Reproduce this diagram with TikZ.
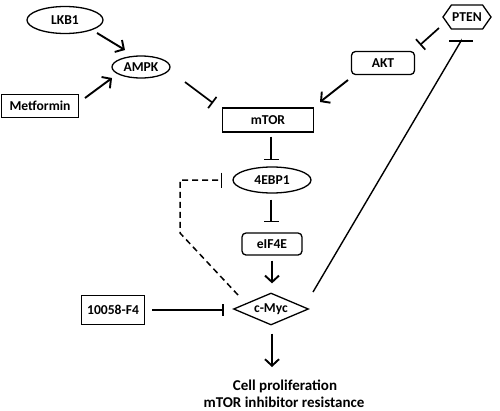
\documentclass[tikz,border=0pt]{standalone}
\usepackage{fontspec}
\setmainfont{Carlito}
\usetikzlibrary{arrows.meta,shapes.geometric,shapes.symbols,calc}
\begin{document}
\begin{tikzpicture}[x=1pt,y=-1pt,
  every node/.style={font=\bfseries\fontsize{13.6}{15}\selectfont, inner sep=0pt},
  box/.style={draw, line width=1.3pt, rectangle},
  rbox/.style={draw, line width=1.3pt, rectangle, rounded corners=4pt},
  oval/.style={draw, line width=1.3pt, ellipse},
  act/.style={line width=1.9pt, -{Straight Barb[length=6.5pt,width=14pt,line width=1.9pt]}},
  inh/.style={line width=1.7pt, -{Bar[width=#1,line width=1.7pt]}},
  inh/.default=15pt,
  plain/.style={font=\bfseries\fontsize{15}{17}\selectfont}]
\useasboundingbox (0,0) rectangle (500,410);
% nodes
\node[oval, minimum width=76pt, minimum height=27pt] (lkb1) at (65,20) {LKB1};
\node[oval, minimum width=58pt, minimum height=22pt] (ampk) at (141,67) {AMPK};
\node[box, minimum width=77pt, minimum height=23pt] (metf) at (40,106) {Metformin};
\node[box, minimum width=91pt, minimum height=24pt] (mtor) at (268,120) {mTOR};
\node[draw, line width=1.3pt, signal, signal to=west and east, signal pointer angle=110,
      minimum width=48pt, minimum height=24pt] (pten) at (467,17) {PTEN};
\node[rbox, minimum width=63pt, minimum height=23pt] (akt) at (383,63) {AKT};
\node[oval, minimum width=78pt, minimum height=26pt] (ebp) at (272,180) {4EBP1};
\node[rbox, minimum width=60pt, minimum height=22pt] (eif) at (272,244) {eIF4E};
\node[draw, line width=1.3pt, diamond, aspect=2.3, minimum width=75pt, minimum height=32pt] (myc) at (271,309) {c-Myc};
\node[box, minimum width=63pt, minimum height=29pt] (f4) at (113,310) {10058-F4};
\node[plain] (out1) at (285,386) {Cell proliferation};
\node[plain] (out2) at (284,402) {mTOR inhibitor resistance};
% connectors
\draw[act] ($(lkb1)+(32,13)$) -- ($(ampk)+(-16,-17)$);
\draw[act] ($(metf)+(45,-8)$) -- ($(ampk)+(-29,11)$);
\draw[inh=14pt] ($(ampk)+(44,15)$) -- ($(mtor)+(-55,-17)$);
\draw[inh=14pt] ($(pten)+(-28,11)$) -- ($(akt)+(37,-18)$);
\draw[act] ($(akt)+(-35,17)$) -- ($(mtor)+(52,-18)$);
\draw[inh] ($(mtor.south)+(3,4)$) -- ($(ebp.north)+(-1,-6)$);
\draw[inh] ($(ebp.south)+(-1,6)$) -- ($(eif.north)+(-1,-10)$);
\draw[act] ($(eif.south)+(0,5)$) -- ($(myc.north)+(1,-9)$);
\draw[act] ($(myc.south)+(1,8)$) -- (272,367);
\coordinate (d1) at (180,233);
\coordinate (d2) at (180,180);
\draw[inh, line width=1.5pt, dash pattern=on 6pt off 4pt] ($(myc)+(-33,-14)$) -- (d1) -- (d2) -- ($(ebp.west)+(-10,0)$);
\draw[inh=12pt] ($(f4.east)+(7,0)$) -- ($(myc.west)+(-9,1)$);
\coordinate (p1) at (461,41);
\draw[line width=1.4pt, -{Bar[width=24pt,line width=1.6pt]}] ($(myc)+(42,-17)$) -- (p1) -- ++(0,-1);
\end{tikzpicture}
\end{document}
